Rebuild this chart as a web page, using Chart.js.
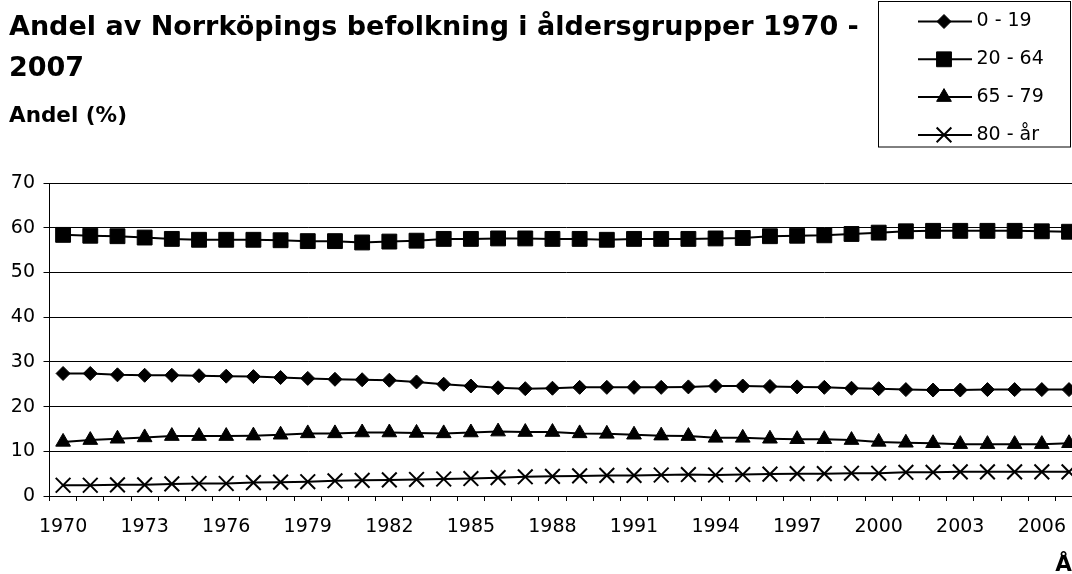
<!DOCTYPE html>
<html>
<head>
<meta charset="utf-8">
<script src="https://cdn.jsdelivr.net/npm/chart.js@4/dist/chart.umd.min.js"></script>
<style>
html, body { margin: 0; padding: 0; background: #fff; overflow: hidden; width: 1072px; height: 574px; }
#wrap { position: absolute; left: 0; top: 0; width: 1095px; height: 574px; }
</style>
</head>
<body>
<div id="wrap"><canvas id="c" width="1095" height="574"></canvas></div>
<script>
// ---- data ----
const titleLines = ['Andel av Norrköpings befolkning i åldersgrupper 1970 -', '2007'];
const yAxisTitle = 'Andel (%)';
const xAxisTitle = 'År';
const years = ['1970','1971','1972','1973','1974','1975','1976','1977','1978','1979',
               '1980','1981','1982','1983','1984','1985','1986','1987','1988','1989',
               '1990','1991','1992','1993','1994','1995','1996','1997','1998','1999',
               '2000','2001','2002','2003','2004','2005','2006','2007'];
const tickLabels = ['1970','1973','1976','1979','1982','1985','1988','1991','1994','1997','2000','2003','2006'];
const yTicks = [0, 10, 20, 30, 40, 50, 60, 70];
const seriesNames = ['0 - 19', '20 - 64', '65 - 79', '80 - år'];
const age0_19  = [27.4,27.4,27.1,27.0,27.0,26.9,26.8,26.7,26.5,26.3,
                  26.1,26.0,25.9,25.5,25.0,24.6,24.2,24.0,24.1,24.3,
                  24.3,24.3,24.3,24.4,24.6,24.6,24.5,24.4,24.3,24.1,
                  24.0,23.8,23.7,23.7,23.8,23.8,23.8,23.8];
const age20_64 = [58.4,58.2,58.1,57.8,57.5,57.3,57.3,57.3,57.2,57.0,
                  57.0,56.7,56.9,57.1,57.5,57.5,57.6,57.6,57.5,57.5,
                  57.3,57.5,57.5,57.5,57.6,57.7,58.1,58.2,58.3,58.6,
                  58.9,59.2,59.3,59.3,59.3,59.3,59.2,59.1];
const age65_79 = [12.1,12.5,12.8,13.1,13.4,13.4,13.4,13.5,13.7,14.0,
                  14.0,14.2,14.2,14.1,14.0,14.2,14.4,14.3,14.3,14.0,
                  13.9,13.7,13.5,13.4,13.0,13.0,12.8,12.7,12.7,12.5,
                  12.1,11.9,11.8,11.6,11.6,11.6,11.6,11.8];
const age80    = [2.4,2.4,2.5,2.5,2.7,2.8,2.8,3.0,3.1,3.2,
                  3.4,3.5,3.6,3.7,3.8,3.9,4.1,4.3,4.4,4.5,
                  4.6,4.6,4.7,4.8,4.7,4.8,4.9,5.0,5.0,5.1,
                  5.1,5.3,5.3,5.4,5.4,5.4,5.4,5.4];

// ---- styling ----
const FAMILY = "'DejaVu Sans', 'Liberation Sans', sans-serif";
const markerStyles = [
  { pointStyle: 'rectRot',  pointRadius: 7,    pointBorderWidth: 1 },
  { pointStyle: 'rect',     pointRadius: 10.5, pointBorderWidth: 1 },
  { pointStyle: 'triangle', pointRadius: 8.5,  pointBorderWidth: 1 },
  { pointStyle: 'crossRot', pointRadius: 10.4, pointBorderWidth: 2 }
];
const seriesData = [age0_19, age20_64, age65_79, age80];

const datasets = seriesNames.map((name, i) => Object.assign({
  label: name,
  data: seriesData[i],
  borderColor: '#000',
  backgroundColor: '#000',
  pointBackgroundColor: '#000',
  pointBorderColor: '#000',
  borderWidth: 2,
  tension: 0,
  fill: false,
  clip: false
}, markerStyles[i]));

// Legend drawn as a bordered box (Excel style)
const boxLegend = {
  id: 'boxLegend',
  afterDraw(chart) {
    const ctx = chart.ctx;
    const box = { x: 878.5, y: 1.5, w: 192, h: 145.5 };
    const rowTop = 21.5, rowGap = 37.8;
    ctx.save();
    ctx.strokeStyle = '#000';
    ctx.lineWidth = 1;
    ctx.strokeRect(box.x, box.y, box.w, box.h);
    chart.data.datasets.forEach((ds, i) => {
      const y = rowTop + i * rowGap;
      ctx.strokeStyle = ds.borderColor;
      ctx.lineWidth = ds.borderWidth;
      ctx.beginPath();
      ctx.moveTo(918, y);
      ctx.lineTo(972, y);
      ctx.stroke();
      ctx.fillStyle = ds.backgroundColor;
      ctx.strokeStyle = ds.borderColor;
      ctx.lineWidth = ds.pointBorderWidth;
      Chart.helpers.drawPoint(ctx, {
        pointStyle: ds.pointStyle, radius: ds.pointRadius,
        borderWidth: ds.pointBorderWidth, rotation: 0
      }, 944, y);
      ctx.fillStyle = '#000';
      ctx.font = '19px ' + FAMILY;
      ctx.textBaseline = 'middle';
      ctx.textAlign = 'left';
      ctx.fillText(ds.label, 976.5, y);
    });
    ctx.restore();
  }
};

new Chart(document.getElementById('c'), {
  type: 'line',
  data: { labels: years, datasets: datasets },
  options: {
    responsive: false,
    animation: false,
    events: [],
    layout: { padding: { left: 9, right: 0, top: 0, bottom: 0 } },
    plugins: {
      legend: { display: false },
      tooltip: { enabled: false },
      title: {
        display: true, text: titleLines, align: 'start', color: '#000',
        font: { family: FAMILY, size: 27, weight: 'bold', lineHeight: 41 / 27 },
        padding: { top: 7.7, bottom: 0 }
      },
      subtitle: {
        display: true, text: yAxisTitle, align: 'start', color: '#000',
        font: { family: FAMILY, size: 21.5, weight: 'bold', lineHeight: 1.2 },
        padding: { top: 14, bottom: 53.5 }
      }
    },
    scales: {
      x: {
        type: 'category',
        offset: true,
        grid: { display: true, drawOnChartArea: false, drawTicks: true, tickLength: 5, color: '#000', lineWidth: 1, offset: true },
        border: { display: true, color: '#000', width: 1 },
        ticks: {
          autoSkip: false, maxRotation: 0, minRotation: 0, padding: 14.6, color: '#000',
          font: { family: FAMILY, size: 19 },
          callback: function (v) {
            const l = this.getLabelForValue(v);
            return tickLabels.includes(l) ? l : '';
          }
        },
        title: {
          display: true, text: xAxisTitle, align: 'end', color: '#000',
          font: { family: FAMILY, size: 21.5, weight: 'bold', lineHeight: 0.8 },
          padding: { top: 0, bottom: 0 }
        },
        afterFit: function (s) { s.height = 78; }
      },
      y: {
        min: 0, max: 70,
        afterBuildTicks: function (s) { s.ticks = yTicks.map(v => ({ value: v })); },
        ticks: { padding: 8.5, color: '#000', font: { family: FAMILY, size: 19 } },
        grid: { color: '#000', lineWidth: 1, drawTicks: true, tickLength: 6 },
        border: { display: true, color: '#000', width: 1 },
        afterFit: function (s) { s.width = 40.5; }
      }
    }
  },
  plugins: [boxLegend]
});
</script>
</body>
</html>
